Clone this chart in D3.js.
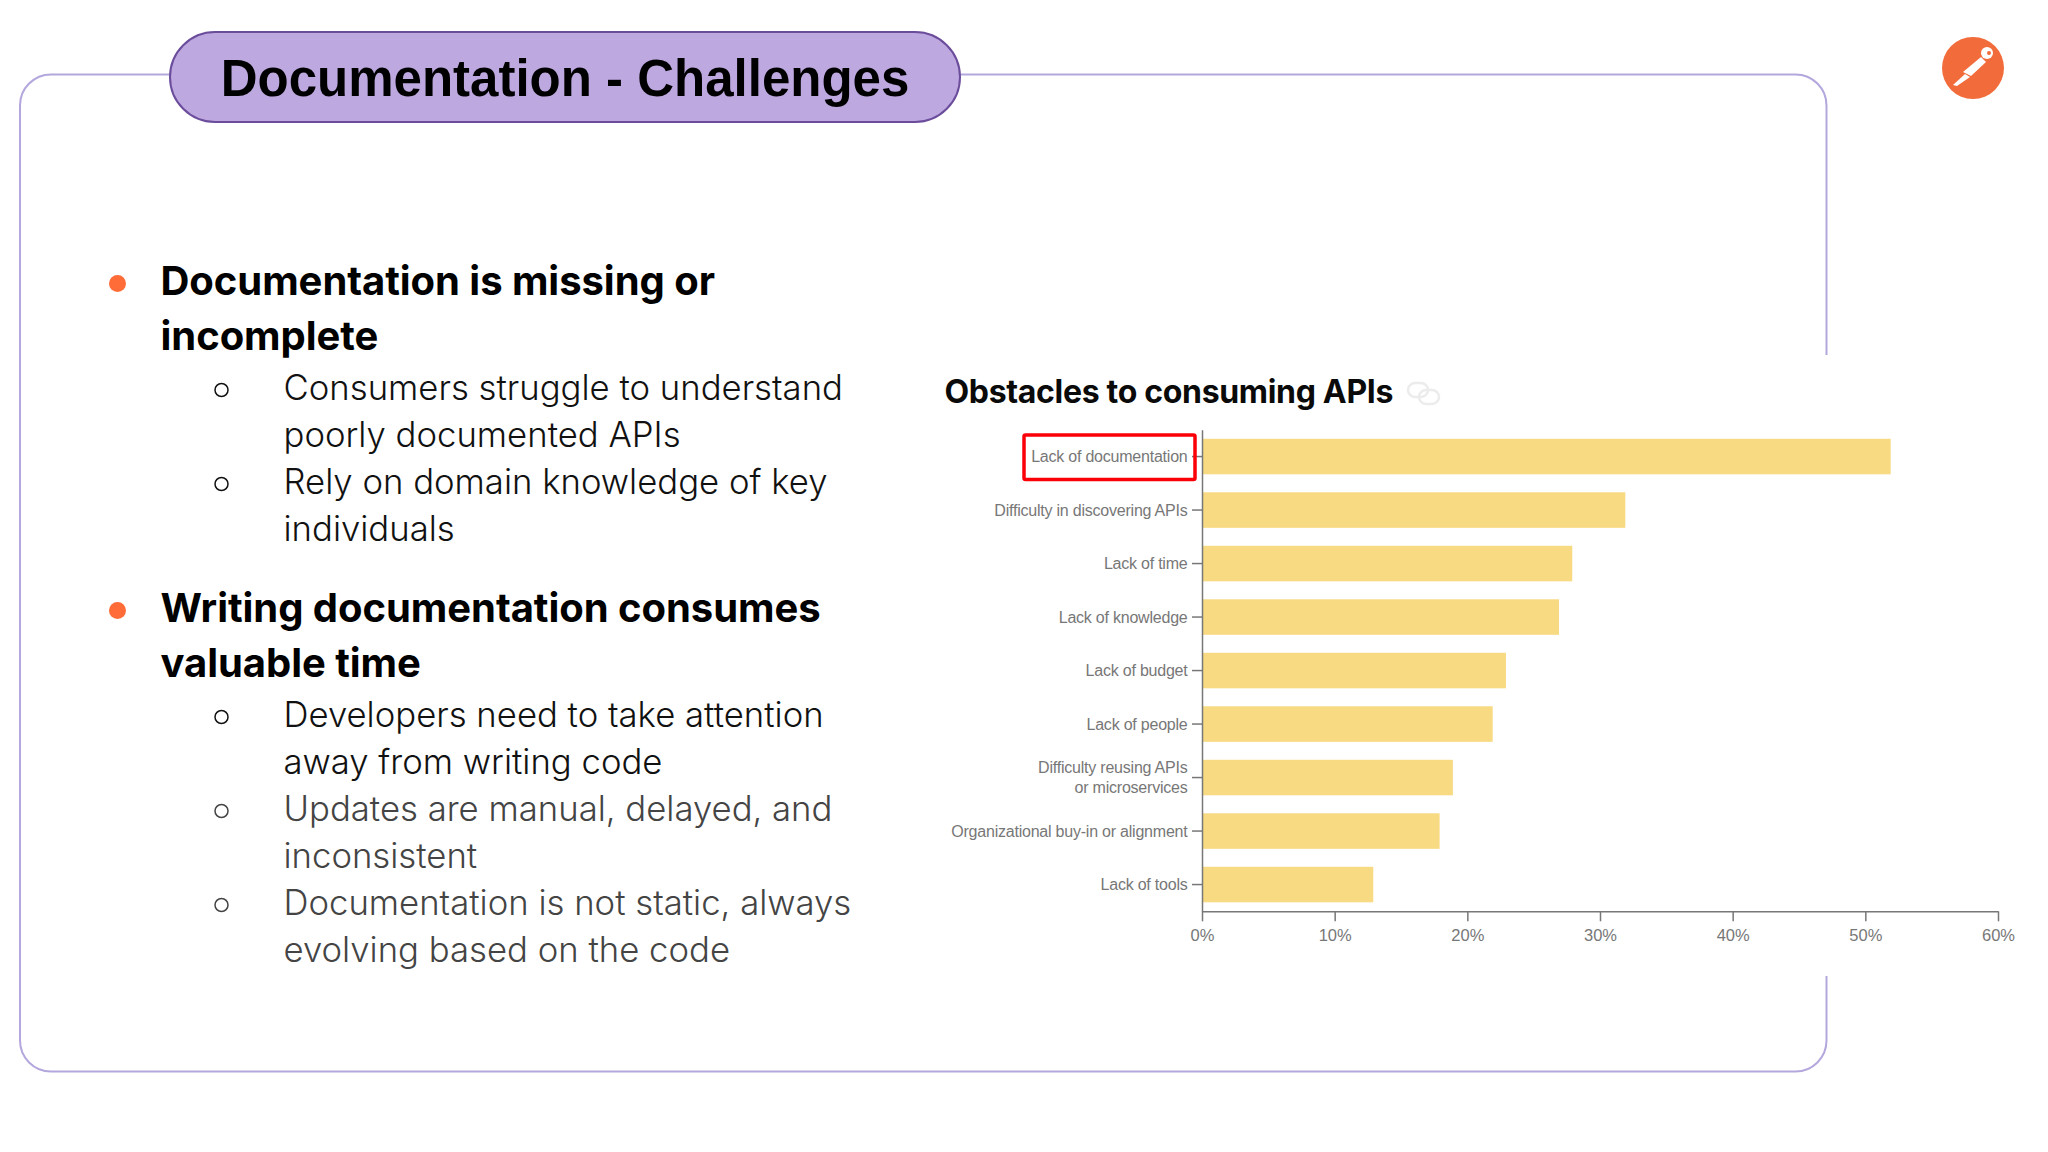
<!DOCTYPE html>
<html>
<head>
<meta charset="utf-8">
<script src="https://cdn.jsdelivr.net/npm/d3@7"></script>
<style>
  html, body { margin: 0; padding: 0; background: #fff; }
  text { font-family: Inter, "Noto Sans", sans-serif; }
</style>
</head>
<body>
<svg id="slide" width="2048" height="1152"></svg>
<script>
// chart values
var categories = [
    "Lack of documentation",
    "Difficulty in discovering APIs",
    "Lack of time",
    "Lack of knowledge",
    "Lack of budget",
    "Lack of people",
    "Difficulty reusing APIs|or microservices",
    "Organizational buy-in or alignment",
    "Lack of tools"
];
var values = [52, 32, 28, 27, 23, 22, 19, 18, 13];
var xTicks = [0, 10, 20, 30, 40, 50, 60];
var highlighted = "Lack of documentation";

// slide text
var slideTitle = "Documentation - Challenges";
var chartTitle = "Obstacles to consuming APIs";
var headings = [
    { lines: ["Documentation is missing or", "incomplete"], y: 295 },
    { lines: ["Writing documentation consumes", "valuable time"], y: 622 }
];
var subBullets = [
    { lines: ["Consumers struggle to understand", "poorly documented APIs"], y: 400, color: "#111" },
    { lines: ["Rely on domain knowledge of key", "individuals"], y: 494, color: "#111" },
    { lines: ["Developers need to take attention", "away from writing code"], y: 727, color: "#111" },
    { lines: ["Updates are manual, delayed, and", "inconsistent"], y: 821, color: "#444" },
    { lines: ["Documentation is not static, always", "evolving based on the code"], y: 915, color: "#444" }
];

var svg = d3.select("#slide");

// outer frame
svg.append("rect")
    .attr("x", 20).attr("y", 74.5)
    .attr("width", 1806.5).attr("height", 997)
    .attr("rx", 31)
    .attr("fill", "none")
    .attr("stroke", "#b4a7dd")
    .attr("stroke-width", 2);

// title pill
svg.append("rect")
    .attr("x", 170).attr("y", 32)
    .attr("width", 790).attr("height", 90)
    .attr("rx", 45)
    .attr("fill", "#bda8e0")
    .attr("stroke", "#6b4d9c")
    .attr("stroke-width", 2);

svg.append("text")
    .attr("x", 565).attr("y", 96)
    .attr("text-anchor", "middle")
    .style("font-family", "Liberation Sans")
    .attr("font-size", 51)
    .attr("font-weight", 700)
    .attr("fill", "#000")
    .text(slideTitle);

// logo
var logo = svg.append("g").attr("transform", "translate(1973,68)");
logo.append("circle").attr("r", 31).attr("fill", "#f26b3a");
logo.append("circle").attr("cx", 14).attr("cy", -15).attr("r", 6).attr("fill", "#fff");
logo.append("circle").attr("cx", 16).attr("cy", -15).attr("r", 2).attr("fill", "#f26b3a");
logo.append("path").attr("d", "M8,-11 L13,-6 L-2,8 L-10,4 Z").attr("fill", "#fff");
logo.append("path").attr("d", "M-8,6 L-3,9 L-16,18 L-20,17 Z").attr("fill", "#fff");

// left column
headings.forEach(function(h) {
    svg.append("circle")
        .attr("cx", 117.5).attr("cy", h.y - 11.5).attr("r", 8.5)
        .attr("fill", "#ff6c37");
    h.lines.forEach(function(line, i) {
        svg.append("text")
            .attr("x", 160.5).attr("y", h.y + i * 55)
            .attr("font-size", 40)
            .attr("font-weight", 700)
            .attr("letter-spacing", -0.05)
            .attr("fill", "#000")
            .text(line);
    });
});

subBullets.forEach(function(b) {
    svg.append("circle")
        .attr("cx", 221.5).attr("cy", b.y - 10).attr("r", 6.5)
        .attr("fill", "none")
        .attr("stroke", b.color)
        .attr("stroke-width", 1.5);
    b.lines.forEach(function(line, i) {
        svg.append("text")
            .attr("x", 283.5).attr("y", b.y + i * 47)
            .attr("font-size", 34.7)
            .attr("font-weight", 300)
            .attr("fill", b.color)
            .text(line);
    });
});

// white backing of the pasted chart
svg.append("rect")
    .attr("x", 930).attr("y", 355)
    .attr("width", 1118).attr("height", 621)
    .attr("fill", "#fff");

svg.append("text")
    .attr("x", 944.5).attr("y", 403)
    .attr("font-size", 32)
    .attr("font-weight", 700)
    .attr("letter-spacing", -0.32)
    .attr("fill", "#0a0a0a")
    .text(chartTitle);

// link icon next to the title
var link = svg.append("g")
    .attr("transform", "translate(1423,393)")
    .attr("fill", "none")
    .attr("stroke", "#ececec")
    .attr("stroke-width", 2.5);
link.append("rect").attr("x", -15).attr("y", -10).attr("width", 20).attr("height", 14).attr("rx", 7);
link.append("rect").attr("x", -4).attr("y", -3).attr("width", 20).attr("height", 14).attr("rx", 7);

// bar chart
var x = d3.scaleLinear().domain([0, 60]).range([1202, 1998]);
var y = d3.scaleBand().domain(categories).range([429.8, 911.3]).paddingInner(0.336).paddingOuter(0.168);

svg.append("g")
    .selectAll("rect")
    .data(values)
    .join("rect")
    .attr("x", x(0))
    .attr("y", function(d, i) { return y(categories[i]); })
    .attr("width", function(d) { return x(d) - x(0) - 1.2; })
    .attr("height", y.bandwidth())
    .attr("fill", "#f8da82");

var xAxis = svg.append("g")
    .attr("transform", "translate(0,911.3)")
    .call(d3.axisBottom(x).tickValues(xTicks).tickFormat(function(d) { return d + "%"; }).tickSize(10).tickPadding(8).tickSizeOuter(0));
xAxis.select(".domain").attr("stroke", "#777").attr("stroke-width", 1.5);
xAxis.selectAll(".tick line").attr("stroke", "#777").attr("stroke-width", 1.5);
xAxis.selectAll(".tick text")
    .attr("fill", "#777")
    .attr("font-size", 16.5)
    .style("font-family", "Liberation Sans");

var yAxis = svg.append("g")
    .attr("transform", "translate(1202,0)")
    .call(d3.axisLeft(y).tickSize(10).tickPadding(5).tickSizeOuter(0).tickFormat(""));
yAxis.select(".domain").attr("stroke", "#777").attr("stroke-width", 1.5);
yAxis.selectAll(".tick line").attr("stroke", "#777").attr("stroke-width", 1.5);

// two line labels are split on the pipe
yAxis.selectAll(".tick text").each(function(d) {
    var parts = d.split("|");
    var label = d3.select(this)
        .attr("fill", "#777")
        .attr("font-size", 16)
        .attr("letter-spacing", -0.22)
        .style("font-family", "Liberation Sans")
        .attr("dy", null);
    label.selectAll("tspan")
        .data(parts)
        .join("tspan")
        .attr("x", -14.5)
        .attr("y", function(p, i) { return 5.5 + (i - (parts.length - 1) / 2) * 19.5; })
        .text(function(p) { return p; });
});

// red box around the highlighted label
svg.append("rect")
    .attr("x", 1024)
    .attr("y", y(highlighted) + y.bandwidth() / 2 - 21.5)
    .attr("width", 171)
    .attr("height", 44.5)
    .attr("rx", 1.5)
    .attr("fill", "none")
    .attr("stroke", "#fb0007")
    .attr("stroke-width", 3.5);
</script>
</body>
</html>
